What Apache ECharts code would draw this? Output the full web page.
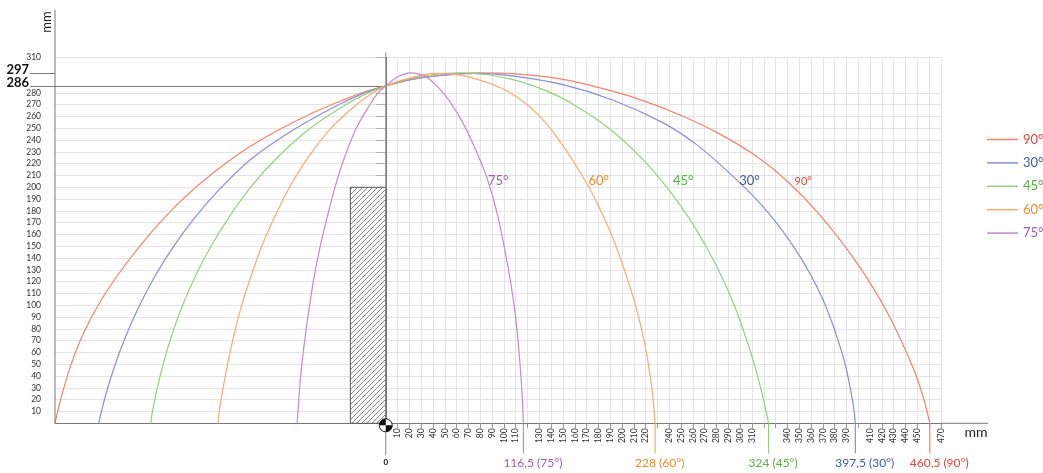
<!DOCTYPE html>
<html><head><meta charset="utf-8">
<script src="https://cdn.jsdelivr.net/npm/echarts@6/dist/echarts.min.js"></script>
<style>html,body{margin:0;padding:0;background:#fff}#c{width:1043px;height:473px}</style>
</head><body><div id="c"></div>
<script>
// ---- data ----
const seriesNames = ['90°', '30°', '45°', '60°', '75°'];
const curve90 = [[-280,0],[-275,21],[-267,48],[-256,76],[-240,106],[-220,135],[-198,162.5],[-176,186],[-152,207.5],[-119,232],[-90,249],[-62,263],[-36,274],[-16,281.6],[0,286],[22,291.5],[50,295.5],[79,297],[107,296.3],[150,291.5],[192,281.5],[222,272],[252,260],[282,245.5],[312,227.5],[339,206],[367,177],[398,137],[424,95],[446,48],[455,22],[460.5,0]];
const curve30 = [[-243,0],[-240.7,10],[-236.8,25],[-229,50],[-219.6,75],[-208.4,100],[-195.2,125],[-179.6,150],[-161.1,175],[-139.2,200],[-112.6,225],[-76,250],[-40,270],[-18,280],[0,286],[22,291.5],[50,295],[75,296.6],[107,294.5],[150,287],[192,274],[234,255],[262,237],[291,212],[319,184],[347,147],[370,105],[387,57],[395,20],[397.5,0]];
const curve45 = [[-199,0],[-197.5,10],[-194.5,25],[-188.5,50],[-181,75],[-172,100],[-161,125],[-148,150],[-132.5,175],[-114.5,200],[-92,225],[-64,250],[-34,270],[-15,280],[0,286],[20,292],[40,295.6],[62.5,297],[85,295.6],[107,291.5],[125,286],[140,280],[159.4,270],[188.8,250],[216.3,225],[238,200],[256,175],[271,150],[284,125],[295,100],[304,75],[312,50],[318.6,25],[322,10],[324,0]];
const curve60 = [[-142,0],[-141,10],[-138.5,25],[-134,50],[-128.5,75],[-122,100],[-114,125],[-105,150],[-94,175],[-81.5,200],[-66,225],[-46.5,250],[-25,270],[-11,280],[0,286],[20,292.5],[42,296.5],[60,295.5],[79,291],[98,284],[110,277],[122,268],[136,254],[148,238],[160,220],[172,200],[183,178],[193,155],[202,130],[210,105],[216.5,80],[221.5,55],[225.5,28],[227,12],[228,0]];
const curve75 = [[-75,0],[-74,15],[-72.5,35],[-70.5,55],[-68,75],[-64.5,100],[-60.5,125],[-55.5,150],[-49.5,175],[-43,200],[-35,225],[-25,250],[-13.5,270],[-6.5,280],[0,286],[10,293.5],[21,297],[30,295.5],[37,291.5],[45,284],[54,273],[65,255],[76,232],[86,207],[95,175],[103,135],[107.5,108],[111,80],[113.5,52],[115.3,26],[116.5,0]];
const curves = [curve90, curve30, curve45, curve60, curve75];
const landingX = [460.5, 397.5, 324, 228, 116.5];
const landingText = ['460,5 (90°)', '397,5 (30°)', '324 (45°)', '228 (60°)', '116,5 (75°)'];
const curveLabelPos = [[353.4,205.3],[307.9,205.3],[251.8,205.3],[180.2,205.3],[95.2,205.3]];
const xTickLabels = [10,20,30,40,50,60,70,80,90,100,110,130,140,150,160,170,180,190,200,210,220,240,250,260,270,280,290,300,310,340,350,360,370,380,390,410,420,430,440,450,470];
const yTickLabels = [10,20,30,40,50,60,70,80,90,100,110,120,130,140,150,160,170,180,190,200,210,220,230,240,250,260,270,280,310];
const markedHeights = [286, 297];
const blockX = [-30, 0];
const blockY = [0, 200];

// ---- styles ----
const lineColors = ['#f0846e', '#8a8ed6', '#95cf80', '#f6ab72', '#c48bcb'];
const textColors = ['#e8433a', '#3d5aa8', '#5baf45', '#ef8a2c', '#a65cae'];
const FONT = 'Lato, "Open Sans", sans-serif';

// hatch pattern
const pat = document.createElement('canvas');
pat.width = 5; pat.height = 5;
(function(){const c = pat.getContext('2d');c.fillStyle='#fff';c.fillRect(0,0,5,5);c.strokeStyle='#777';c.lineWidth=0.9;
c.beginPath();c.moveTo(0,5);c.lineTo(5,0);c.moveTo(-1,1);c.lineTo(1,-1);c.moveTo(4,6);c.lineTo(6,4);c.stroke();})();

const xTickAll = [];
for (let v = 10; v <= 470; v += 10) xTickAll.push(v);

const chart = echarts.init(document.getElementById('c'), null, {renderer: 'canvas'});
const series = curves.map((d, i) => ({
  name: seriesNames[i], type: 'line', data: d, smooth: 0.35, symbol: 'none',
  lineStyle: {color: lineColors[i], width: 1.2}, itemStyle: {color: lineColors[i]},
  z: 3 + i, silent: true,
  markPoint: {
    symbol: 'circle', symbolSize: 0, silent: true,
    label: {show: true, position: 'inside', formatter: seriesNames[i], color: textColors[i],
      fontSize: i === 0 ? 11 : 13, fontFamily: FONT},
    data: [{coord: curveLabelPos[i]}]
  }
}));
series[0].markLine = {
  silent: true, symbol: ['none', 'none'], label: {show: false},
  lineStyle: {color: '#7a7a7a', width: 1, type: 'solid'},
  data: [[{coord: [-280, markedHeights[0]]}, {coord: [0, markedHeights[0]]}]]
};
series.push({
  type: 'custom', silent: true, z: 2,
  data: [[blockX[0], blockY[0]]],
  encode: {x: 0, y: 1},
  renderItem: function (params, api) {
    const p0 = api.coord([blockX[0], blockY[1]]);
    const p1 = api.coord([blockX[1], blockY[0]]);
    return {type: 'rect', shape: {x: p0[0], y: p0[1], width: p1[0] - p0[0], height: p1[1] - p0[1]},
      style: {fill: {image: pat, repeat: 'repeat'}, stroke: '#555', lineWidth: 1}};
  }
});

const option = {
  animation: false,
  textStyle: {fontFamily: FONT},
  grid: {left: 55, right: 102, top: 57.5, bottom: 49.7, containLabel: false},
  legend: {
    orient: 'vertical', left: 987, top: 132, icon: 'rect', itemWidth: 31, itemHeight: 1.5,
    itemGap: 8.4, itemTextGap: 4, padding: 0,
    textStyle: {fontSize: 13, lineHeight: 15, fontFamily: FONT, overflow: 'none'},
    data: seriesNames.map((n, i) => ({name: n, textStyle: {color: textColors[i]}}))
  },
  xAxis: {
    type: 'value', min: -280, max: 470, interval: 10,
    axisLine: {show: true, lineStyle: {color: '#777', width: 1}},
    axisTick: {show: true, length: 5, lineStyle: {color: '#999'}, customValues: xTickAll},
    axisLabel: {rotate: 90, fontSize: 8.5, color: '#333', margin: 5, fontFamily: FONT,
      customValues: xTickLabels, formatter: v => String(v)},
    splitLine: {show: true, lineStyle: {color: '#e4e4e4', width: 1}}
  },
  yAxis: [{
    type: 'value', min: 0, max: 310, interval: 10,
    axisLine: {show: true, lineStyle: {color: '#777', width: 1}},
    axisTick: {show: true, length: 10, lineStyle: {color: '#b0b0b0'}, customValues: yTickLabels},
    axisLabel: {fontSize: 8.5, color: '#333', margin: 14, fontFamily: FONT,
      customValues: yTickLabels, formatter: v => String(v)},
    splitLine: {show: true, lineStyle: {color: '#e4e4e4', width: 1}}
  }, {
    type: 'value', min: 0, max: 310, position: 'left',
    axisLine: {show: false},
    axisTick: {show: true, length: 25, lineStyle: {color: '#7a7a7a'}, customValues: markedHeights},
    axisLabel: {fontSize: 13, fontWeight: 'bold', color: '#111', margin: 26, fontFamily: FONT,
      customValues: markedHeights, formatter: v => String(v), verticalAlign: 'bottom', padding: [0,0,-3,0]},
    splitLine: {show: false}
  }],
  series: series
};
chart.setOption(option);

// ---- decorations positioned from the axes ----
const P = (x, y) => chart.convertToPixel({seriesIndex: 0}, [x, y]);
const o = P(0, 0), topP = P(0, 310), rightP = P(470, 0), leftP = P(-280, 0);
const g = [];
const st = {stroke: '#777', lineWidth: 1};
g.push({type: 'line', silent: true, shape: {x1: leftP[0], y1: o[1], x2: leftP[0], y2: 10}, style: st, z: 10});
g.push({type: 'line', silent: true, shape: {x1: rightP[0], y1: o[1], x2: rightP[0] + 47, y2: o[1]}, style: st, z: 10});
g.push({type: 'line', silent: true, shape: {x1: o[0], y1: topP[1] - 5, x2: o[0], y2: o[1] + 32}, style: {stroke: '#888', lineWidth: 1}, z: 10});
g.push({type: 'text', silent: true, x: o[0], y: o[1] + 39, style: {text: '0', fill: '#111', font: 'bold 8px ' + FONT, align: 'center', verticalAlign: 'middle'}, z: 10});
g.push({type: 'text', silent: true, x: leftP[0] - 8, y: 22, rotation: Math.PI / 2, style: {text: 'mm', fill: '#222', font: '13px ' + FONT, align: 'center', verticalAlign: 'middle'}, z: 10});
g.push({type: 'text', silent: true, x: rightP[0] + 35, y: o[1] + 9, style: {text: 'mm', fill: '#222', font: '14px ' + FONT, align: 'center', verticalAlign: 'middle'}, z: 10});
landingX.forEach((lx, i) => {
  const p = P(lx, 0);
  g.push({type: 'line', silent: true, shape: {x1: p[0], y1: o[1], x2: p[0], y2: o[1] + 30}, style: {stroke: lineColors[i], lineWidth: 1.2}, z: 9});
  g.push({type: 'text', silent: true, x: p[0] - 20, y: o[1] + 40, style: {text: landingText[i], fill: textColors[i], font: '12px ' + FONT, align: 'left', verticalAlign: 'middle'}, z: 10});
});
// centre of gravity symbol
const r = 6.5, cy = o[1] + 2;
g.push({type: 'circle', silent: true, shape: {cx: o[0], cy: cy, r: r}, style: {fill: '#fff', stroke: '#111', lineWidth: 1}, z: 20});
g.push({type: 'sector', silent: true, shape: {cx: o[0], cy: cy, r: r, startAngle: Math.PI, endAngle: Math.PI * 1.5}, style: {fill: '#111'}, z: 21});
g.push({type: 'sector', silent: true, shape: {cx: o[0], cy: cy, r: r, startAngle: 0, endAngle: Math.PI / 2}, style: {fill: '#111'}, z: 21});
chart.setOption({graphic: g});
</script>
</body></html>
